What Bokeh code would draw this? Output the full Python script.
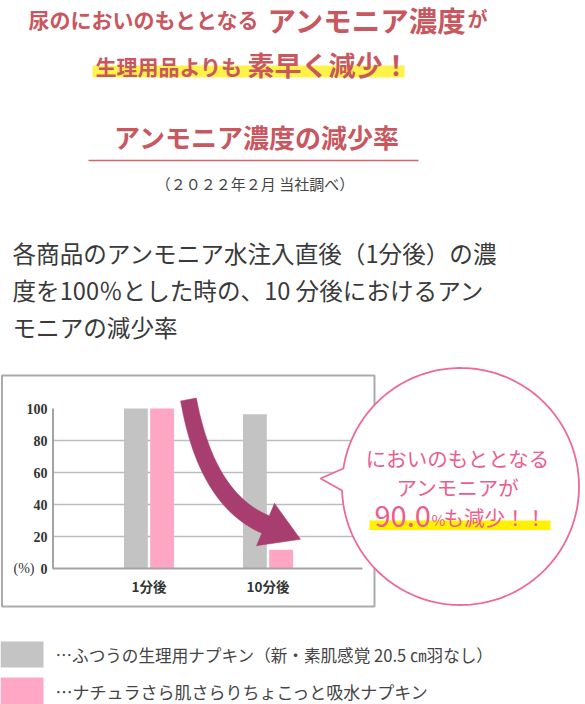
import numpy as np
from bokeh.plotting import figure
from bokeh.models import Range1d, ColumnDataSource
from bokeh.core.properties import value
from bokeh.transform import dodge
from bokeh.embed import file_html
from bokeh.resources import INLINE

# ---------------- data ----------------
categories = ["1分後", "10分後"]
regular_pad = [100, 96.4]      # ふつうの生理用ナプキン
natural_pad = [100, 11.7]      # ナチュラさら肌さらり ちょこっと吸水ナプキン
y_ticks = [0, 20, 40, 60, 80, 100]
grid_ticks = [20, 40, 60, 80]
y_unit_label = "(%)"
legend_labels = [
    "…ふつうの生理用ナプキン（新・素肌感覚 20.5 ㎝羽なし）",
    "…ナチュラさら肌さらりちょこっと吸水ナプキン",
]
reduction_label = ["90.0", "%", "も減少！！"]

# ---------------- style ----------------
JP = "Noto Sans CJK JP"
NUM = "Liberation Sans Narrow"
RED = "#C9575F"
PINK_TXT = "#EE5C8E"
PINK_LINE = "#EE6A95"
GRAY_BAR = "#C3C3C3"
PINK_BAR = "#FFA6C4"
ARROW = "#A83E70"
TXT = "#3a3a3a"

W, H = 585, 704
PAGE_L, PAGE_T = 0, 0
p = figure(width=W, height=H, x_range=Range1d(PAGE_L, PAGE_L + W),
           y_range=Range1d(PAGE_T + H, PAGE_T), output_backend="svg",
           toolbar_location=None, x_axis_type=None, y_axis_type=None,
           min_border=0, outline_line_color=None)
p.grid.visible = False
p.background_fill_color = "white"
p.border_fill_color = "white"

# chart scales (plot area of the inner bar chart, in page px)
BASE_Y, TOP_Y = 568.0, 408.0          # pixel of 0 % and 100 %
px_pct = (BASE_Y - TOP_Y) / 100.0
p.extra_y_ranges = {"pct": Range1d(-(PAGE_T + H - BASE_Y) / px_pct,
                                   100 + (TOP_Y - PAGE_T) / px_pct)}
CAT0_X, CAT1_X = 148.5, 267.5         # pixel of the two category centres
px_cat = CAT1_X - CAT0_X
p.extra_x_ranges = {"cat": Range1d((PAGE_L - CAT0_X) / px_cat,
                                   (PAGE_L + W - CAT0_X) / px_cat)}


def txt(x, y, s, size, color, font=JP, style="normal", align="left",
        baseline="middle", **kw):
    p.text(x=[x], y=[y], text=[s], text_font=value(font),
           text_font_size=value(f"{size}px"), text_color=color,
           text_font_style=style, text_align=align, text_baseline=baseline, **kw)


# ---------------- header ----------------
p.quad(left=[92], right=[404], top=[65], bottom=[77], fill_color="#FFF34A",
       line_color=None)
txt(28, 18, "尿のにおいのもととなる", 21, RED, style="bold")
txt(267, 19, "アンモニア濃度", 28.5, RED, style="bold")
txt(467, 18, "が", 20, RED, style="bold")
txt(95, 65, "生理用品よりも", 21, RED, style="bold")
txt(247, 64, "素早く減少！", 27, RED, style="bold")

txt(256.5, 136, "アンモニア濃度の減少率", 26, RED, style="bold", align="center")
p.segment(x0=[88], x1=[418], y0=[160], y1=[160], line_color="#D0656B",
          line_width=1.5)
txt(254.5, 183, "（２０２２年２月 当社調べ）", 15, "#444444", align="center")

body = ["各商品のアンモニア水注入直後（1分後）の濃",
        "度を100％とした時の、10 分後におけるアン",
        "モニアの減少率"]
for i, line in enumerate(body):
    txt(12, 252.5 + 37 * i, line, 23.6, TXT)

# ---------------- chart ----------------
p.quad(left=[1.5], right=[374], top=[375], bottom=[606], fill_color=None,
       line_color="#ABABAB", line_width=2)

p.segment(x0=[53] * len(grid_ticks), x1=[362] * len(grid_ticks),
          y0=grid_ticks, y1=grid_ticks, y_range_name="pct",
          line_color="#BDBDBD", line_width=1.3)

src = ColumnDataSource(dict(idx=list(range(len(categories))), cat=categories,
                            regular=regular_pad, natural=natural_pad))
p.vbar(x=dodge("idx", -0.11), top="regular", bottom=0, width=0.2,
       source=src, x_range_name="cat", y_range_name="pct",
       fill_color=GRAY_BAR, line_color=None)
p.vbar(x=dodge("idx", 0.11), top="natural", bottom=0, width=0.2,
       source=src, x_range_name="cat", y_range_name="pct",
       fill_color=PINK_BAR, line_color=None)

# axis lines
p.segment(x0=[52.5], x1=[52.5], y0=[0], y1=[max(y_ticks)], y_range_name="pct",
          line_color="#A3A3A3", line_width=2)
p.segment(x0=[52], x1=[362], y0=[0], y1=[0], y_range_name="pct",
          line_color="#A3A3A3", line_width=2)

p.text(x=[47] * len(y_ticks), y=y_ticks, text=[str(t) for t in y_ticks],
       y_range_name="pct", text_font=value(NUM), text_font_size=value("14px"),
       text_font_style="bold", text_color="#333333", text_align="right",
       text_baseline="middle")
txt(13, 0, y_unit_label, 14, "#333333", font=NUM, y_range_name="pct")
p.text(x="idx", y=0, text="cat", source=src, x_range_name="cat",
       y_range_name="pct", y_offset=17, text_font=value(JP),
       text_font_size=value("13.5px"), text_font_style="bold",
       text_color="#333333", text_align="center", text_baseline="middle")

# curved arrow
P0 = np.array([188.0, 399.0]); C = np.array([206.0, 499.0]); P2 = np.array([265.0, 524.0])
t = np.linspace(0, 1, 40)[:, None]
pts = (1 - t) ** 2 * P0 + 2 * (1 - t) * t * C + t ** 2 * P2
der = 2 * (1 - t) * (C - P0) + 2 * t * (P2 - C)
tan = der / np.linalg.norm(der, axis=1)[:, None]
nrm = np.column_stack([-tan[:, 1], tan[:, 0]])
hw = (8.0 + 1.5 * t)[:, 0][:, None]
left = pts + nrm * hw
right = pts - nrm * hw
end_t, end_n = tan[-1], nrm[-1]
head_a = P2 + end_n * 23
head_b = P2 - end_n * 23
tip = P2 + end_t * 38
poly = np.vstack([left, head_a[None], tip[None], head_b[None], right[::-1]])
p.patch(x=poly[:, 0], y=poly[:, 1], fill_color=ARROW, line_color=ARROW,
        line_width=0.5)

# speech bubble
cx, cy, r = 460.0, 486.0, 118.5
th_u = np.pi + np.arcsin((cy - 468) / r)
th_l = 3 * np.pi - np.arcsin((490 - cy) / r)
th = np.linspace(th_u, th_l, 200)
bx = list(cx + r * np.cos(th)) + [320.0]
by = list(cy + r * np.sin(th)) + [478.0]
p.patch(x=bx, y=by, fill_color="white", line_color=PINK_LINE, line_width=1.8)

p.quad(left=[369], right=[550], top=[520], bottom=[529.5], fill_color="#FFF100",
       line_color=None)
txt(457.5, 457, "においのもととなる", 20.5, PINK_TXT, align="center")
txt(457.5, 486, "アンモニアが", 20.5, PINK_TXT, align="center")
txt(374, 516, reduction_label[0], 29, PINK_TXT)
txt(431, 519, reduction_label[1], 15, PINK_TXT)
txt(443, 516, reduction_label[2], 20.5, PINK_TXT)

# ---------------- legend ----------------
p.quad(left=[0], right=[43], top=[641], bottom=[667], fill_color="#C4C4C4",
       line_color=None)
p.quad(left=[0], right=[43], top=[677], bottom=[704], fill_color="#FFA7C4",
       line_color=None)
txt(55, 654, legend_labels[0], 16.6, "#444444")
txt(55, 690.5, legend_labels[1], 17, "#444444")

open("out.html", "w").write(file_html(p, INLINE))
